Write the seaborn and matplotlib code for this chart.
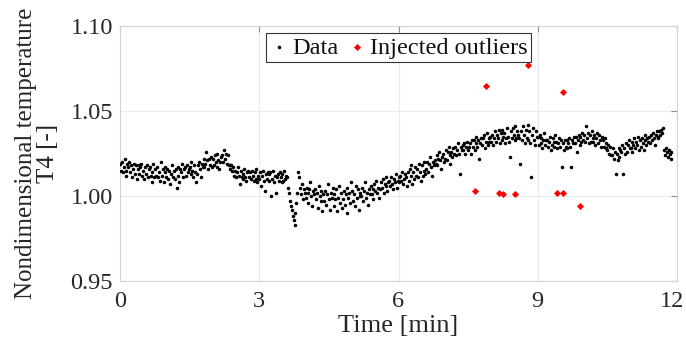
import numpy as np
import pandas as pd
import seaborn as sns
import matplotlib
matplotlib.use("Agg")
import matplotlib.pyplot as plt
import matplotlib.transforms as mtransforms

# ---- data ----
sample_step_min = 0.02  # one sample every 1.2 s

temperature = [
    1.019, 1.015, 1.020, 1.014, 1.017, 1.022, 1.015, 1.012, 1.019, 1.017,
    1.020, 1.014, 1.018, 1.011, 1.016, 1.019, 1.013, 1.018, 1.010, 1.016,
    1.018, 1.013, 1.017, 1.019, 1.012, 1.015, 1.010, 1.017, 1.013, 1.018,
    1.011, 1.016, 1.017, 1.012, 1.008, 1.014, 1.019, 1.011, 1.016, 1.012,
    1.017, 1.011, 1.014, 1.009, 1.020, 1.012, 1.016, 1.008, 1.014, 1.017,
    1.011, 1.016, 1.010, 1.015, 1.007, 1.013, 1.018, 1.011, 1.015, 1.010,
    1.016, 1.005, 1.017, 1.012, 1.008, 1.016, 1.014, 1.019, 1.011, 1.016,
    1.017, 1.012, 1.018, 1.014, 1.016, 1.017, 1.013, 1.020, 1.015, 1.011,
    1.018, 1.014, 1.008, 1.013, 1.018, 1.020, 1.016, 1.011, 1.019, 1.017,
    1.017, 1.022, 1.019, 1.026, 1.021, 1.016, 1.022, 1.018, 1.023, 1.017,
    1.022, 1.018, 1.024, 1.020, 1.017, 1.025, 1.021, 1.016, 1.020, 1.023,
    1.024, 1.020, 1.027, 1.022, 1.025, 1.019, 1.024, 1.018, 1.016, 1.018,
    1.018, 1.015, 1.017, 1.012, 1.015, 1.011, 1.014, 1.017, 1.012, 1.007,
    1.015, 1.011, 1.013, 1.010, 1.016, 1.011, 1.009, 1.014, 1.015, 1.011,
    1.014, 1.010, 1.015, 1.012, 1.009, 1.014, 1.010, 1.016, 1.008, 1.012,
    1.010, 1.014, 1.006, 1.012, 1.015, 1.009, 1.003, 1.013, 1.010, 1.014,
    1.013, 1.009, 1.014, 1.000, 1.010, 1.015, 1.008, 1.012, 1.002, 1.011,
    1.013, 1.009, 1.014, 1.011, 1.008, 1.013, 1.009, 1.015, 1.010, 1.012,
    1.011, 1.005, 1.002, 0.997, 0.994, 0.992, 0.988, 0.986, 0.983, 0.990,
    0.996, 1.002, 1.014, 1.011, 1.005, 1.001, 1.007, 0.998, 1.004, 1.002,
    0.999, 1.005, 1.002, 0.996, 1.004, 1.008, 1.000, 0.994, 1.003, 1.001,
    1.004, 0.998, 1.002, 0.993, 1.006, 1.000, 0.997, 1.003, 0.991, 1.001,
    0.997, 1.003, 0.995, 1.001, 1.007, 0.998, 0.992, 1.002, 0.999, 1.005,
    1.001, 0.994, 0.998, 1.004, 0.991, 0.999, 1.006, 0.996, 1.002, 0.993,
    0.998, 1.003, 0.995, 1.001, 0.990, 1.005, 0.999, 1.002, 0.996, 1.008,
    1.003, 0.997, 1.001, 0.994, 1.006, 0.999, 1.004, 0.992, 1.002, 1.000,
    1.000, 1.005, 0.997, 1.003, 1.008, 0.999, 1.002, 0.995, 1.004, 1.001,
    1.006, 1.001, 1.004, 0.998, 1.007, 1.003, 1.009, 1.002, 1.005, 0.999,
    1.004, 1.008, 1.005, 1.010, 1.002, 1.007, 1.006, 1.011, 1.003, 1.008,
    1.009, 1.006, 1.011, 1.007, 1.004, 1.010, 1.008, 1.013, 1.005, 1.009,
    1.011, 1.008, 1.012, 1.009, 1.014, 1.007, 1.010, 1.013, 1.011, 1.006,
    1.014, 1.009, 1.016, 1.012, 1.018, 1.007, 1.014, 1.010, 1.017, 1.012,
    1.016, 1.011, 1.019, 1.014, 1.009, 1.018, 1.012, 1.020, 1.015, 1.013,
    1.016, 1.020, 1.014, 1.019, 1.023, 1.017, 1.012, 1.020, 1.018, 1.021,
    1.019, 1.024, 1.018, 1.022, 1.026, 1.021, 1.016, 1.023, 1.025, 1.020,
    1.022, 1.027, 1.021, 1.026, 1.029, 1.024, 1.019, 1.026, 1.023, 1.028,
    1.025, 1.029, 1.024, 1.027, 1.031, 1.025, 1.013, 1.029, 1.027, 1.030,
    1.027, 1.031, 1.025, 1.029, 1.032, 1.027, 1.029, 1.031, 1.025, 1.033,
    1.029, 1.033, 1.027, 1.031, 1.035, 1.029, 1.033, 1.022, 1.031, 1.034,
    1.030, 1.034, 1.036, 1.028, 1.032, 1.037, 1.030, 1.034, 1.032, 1.035,
    1.032, 1.036, 1.030, 1.034, 1.038, 1.032, 1.036, 1.034, 1.039, 1.031,
    1.037, 1.033, 1.039, 1.035, 1.037, 1.031, 1.034, 1.040, 1.035, 1.032,
    1.023, 1.038, 1.034, 1.040, 1.036, 1.033, 1.041, 1.034, 1.038, 1.036,
    1.034, 1.019, 1.038, 1.033, 1.041, 1.036, 1.031, 1.039, 1.034, 1.042,
    1.033, 1.038, 1.031, 1.011, 1.036, 1.040, 1.033, 1.030, 1.038, 1.035,
    1.035, 1.030, 1.036, 1.031, 1.034, 1.028, 1.033, 1.037, 1.030, 1.033,
    1.033, 1.029, 1.032, 1.035, 1.027, 1.030, 1.034, 1.029, 1.032, 1.036,
    1.032, 1.028, 1.031, 1.034, 1.029, 1.033, 1.017, 1.031, 1.027, 1.033,
    1.029, 1.033, 1.028, 1.031, 1.034, 1.029, 1.017, 1.033, 1.031, 1.035,
    1.031, 1.035, 1.026, 1.033, 1.036, 1.030, 1.035, 1.032, 1.037, 1.033,
    1.036, 1.032, 1.041, 1.034, 1.037, 1.031, 1.036, 1.032, 1.038, 1.034,
    1.032, 1.036, 1.030, 1.034, 1.037, 1.031, 1.036, 1.033, 1.029, 1.035,
    1.033, 1.029, 1.034, 1.028, 1.031, 1.027, 1.030, 1.025, 1.029, 1.024,
    1.024, 1.028, 1.022, 1.026, 1.013, 1.025, 1.021, 1.028, 1.023, 1.027,
    1.026, 1.030, 1.013, 1.028, 1.025, 1.031, 1.026, 1.030, 1.033, 1.028,
    1.028, 1.032, 1.026, 1.030, 1.034, 1.028, 1.032, 1.030, 1.035, 1.027,
    1.033, 1.029, 1.034, 1.031, 1.027, 1.033, 1.036, 1.030, 1.034, 1.032,
    1.035, 1.031, 1.036, 1.033, 1.037, 1.034, 1.030, 1.036, 1.038, 1.034,
    1.035, 1.038, 1.036, 1.039, 1.037, 1.040, 1.027, 1.024, 1.028, 1.026,
    1.023, 1.027, 1.025, 1.026, 1.022,
]

outlier_time = [7.65, 7.89, 8.17, 8.26, 8.51, 8.79, 9.42, 9.55, 9.55, 9.91]
outlier_temp = [1.003, 1.065, 1.002, 1.001, 1.001, 1.077, 1.002, 1.002, 1.061, 0.994]

x_ticks = [0, 3, 6, 9, 12]
y_ticks = [0.95, 1.00, 1.05, 1.10]
x_label = "Time [min]"
y_label = "Nondimensional temperature\nT4 [-]"

time = np.arange(len(temperature)) * sample_step_min
df_data = pd.DataFrame({"time": time, "temp": temperature})
df_out = pd.DataFrame({"time": outlier_time, "temp": outlier_temp})

# ---- style ----
sns.set_theme(style="white")
plt.rcParams["font.family"] = ["Liberation Serif", "DejaVu Serif"]

W, H = 686, 339
fig = plt.figure(figsize=(W / 100, H / 100), dpi=100)
ax = fig.add_axes([120 / W, 1 - 281 / H, 557 / W, 255 / H])

sns.scatterplot(data=df_data, x="time", y="temp", ax=ax, color="black",
                s=6.5, marker="o", linewidth=0, label="Data", zorder=3)
sns.scatterplot(data=df_out, x="time", y="temp", ax=ax, color="#ff0000",
                s=13, marker="D", linewidth=0, label="Injected outliers", zorder=4)

ax.set_xlim(0, 12)
ax.set_ylim(0.95, 1.10)
ax.set_xticks(x_ticks)
ax.set_yticks(y_ticks)
ax.set_xticklabels([str(v) for v in x_ticks])
ax.set_yticklabels([f"{v:.2f}" for v in y_ticks])

ax.grid(True, color="#ebebeb", linewidth=0.8, zorder=0)
ax.set_axisbelow(True)
for sp in ax.spines.values():
    sp.set_color("#d4d4d4")
    sp.set_linewidth(0.8)

ax.tick_params(axis="both", which="major", direction="in", length=4,
               width=0.8, color="#8c8c8c", labelsize=17.5, labelcolor="#262626",
               top=True, right=True)
ax.tick_params(axis="x", pad=7)
ax.tick_params(axis="y", pad=5)

ax.set_xlabel(x_label, fontsize=19, color="#262626", va="center")
ax.xaxis.set_label_coords(0.5, (281 - 326) / 255)
ax.set_ylabel(y_label, fontsize=18, color="#262626", ha="center", va="center",
              linespacing=1.0)
ax.yaxis.set_label_coords((37 - 120) / 557, 0.5)

leg = ax.legend(loc="upper center", bbox_to_anchor=(0.5, 1 - 7 / 255), ncol=2,
                frameon=True, fancybox=False, fontsize=17.5, handletextpad=0.15,
                columnspacing=0.35, handlelength=0.8, borderpad=0.15,
                borderaxespad=0, labelspacing=0.2)
leg.get_frame().set_edgecolor("#333333")
leg.get_frame().set_linewidth(0.8)
leg.get_frame().set_alpha(1)
for t in leg.get_texts():
    t.set_color("#111111")

# keep the last x tick label inside the canvas (after all tick_params calls)
last_tick = ax.xaxis.get_major_ticks()[-1]
last_tick.label1.set_transform(
    last_tick.label1.get_transform()
    + mtransforms.ScaledTranslation(-5 / 100, 0, fig.dpi_scale_trans))

fig.savefig("out.png", dpi=100, facecolor="white")
